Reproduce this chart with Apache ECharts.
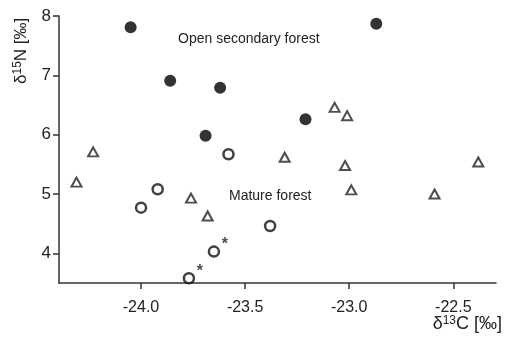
<!DOCTYPE html>
<html>
<head>
<meta charset="utf-8">
<script src="https://cdn.jsdelivr.net/npm/echarts@6/dist/echarts.min.js"></script>
<style>
html,body{margin:0;padding:0;background:#fff;}
#chart{width:507px;height:340px;}
</style>
</head>
<body>
<div id="chart"></div>
<script>
// open secondary forest (filled circles)
var secondary = [[-24.05, 7.81], [-23.86, 6.91], [-23.62, 6.79], [-23.69, 5.98], [-22.87, 7.87], [-23.21, 6.26]];
// mature forest (open circles)
var mature = [[-23.58, 5.67], [-23.92, 5.08], [-24.00, 4.77], [-23.65, 4.03], [-23.77, 3.58], [-23.38, 4.46]];
var starred = [3, 4]; // mature points marked with *
// triangles
var triangles = [[-24.23, 5.71], [-24.31, 5.20], [-23.76, 4.93], [-23.68, 4.63], [-23.07, 6.46], [-23.01, 6.32],
  [-23.31, 5.62], [-23.02, 5.48], [-22.38, 5.54], [-22.99, 5.07], [-22.59, 5.00]];
var xTicks = [-24.0, -23.5, -23.0, -22.5];
var yTicks = [4, 5, 6, 7, 8];

var txt = '#222';
var fontFam = 'Liberation Sans, Arial, sans-serif';

var matureData = mature.map(function (p, i) {
  if (starred.indexOf(i) >= 0) {
    return { value: p, label: { show: true, formatter: '*', position: 'inside', offset: [11, -7], fontSize: 16, fontWeight: 'bold', color: txt, fontFamily: fontFam } };
  }
  return p;
});

var chart = echarts.init(document.getElementById('chart'));
chart.setOption({
  animation: false,
  grid: { left: 59, top: 16, right: 11, bottom: 57 },
  xAxis: {
    type: 'value', min: -24.394, max: -22.295,
    splitLine: { show: false },
    axisLine: { show: true, lineStyle: { color: '#333', width: 1.5 } },
    axisTick: { show: true, length: 6, lineStyle: { color: '#333', width: 1.5 }, customValues: xTicks },
    axisLabel: { customValues: xTicks, margin: 17, fontSize: 16, color: txt, fontFamily: fontFam,
      formatter: function (v) { return v.toFixed(1); } }
  },
  yAxis: {
    type: 'value', min: 3.5, max: 8,
    splitLine: { show: false },
    axisLine: { show: true, lineStyle: { color: '#333', width: 1.5 } },
    axisTick: { show: true, length: 6, lineStyle: { color: '#333', width: 1.5 }, customValues: yTicks },
    axisLabel: { customValues: yTicks, margin: 8, fontSize: 17, color: txt, fontFamily: fontFam }
  },
  series: [
    { type: 'scatter', data: secondary, symbol: 'circle', symbolSize: 12,
      itemStyle: { color: '#000' } },
    { type: 'scatter', data: matureData, symbol: 'circle', symbolSize: 10,
      itemStyle: { color: '#fff', borderColor: '#111', borderWidth: 2.5 } },
    { type: 'scatter', data: triangles, symbol: 'triangle', symbolSize: [10, 9],
      itemStyle: { color: '#fff', borderColor: '#222', borderWidth: 2 } }
  ],
  graphic: [
    { type: 'text', left: 178, top: 32, style: { text: 'Open secondary forest', fontSize: 14, fill: txt, fontFamily: fontFam } },
    { type: 'text', left: 229, top: 189, style: { text: 'Mature forest', fontSize: 14, fill: txt, fontFamily: fontFam } },
    { type: 'text', right: 5, top: 315, style: {
      text: 'δ{sup|13}C [‰]', fontSize: 18, fill: txt, fontFamily: fontFam,
      rich: { sup: { fontSize: 12, verticalAlign: 'top', fill: txt, fontFamily: fontFam, padding: [0, 0, 7, 0] } } } },
    { type: 'text', x: 12, y: 84, rotation: Math.PI / 2, style: {
      text: 'δ{sup|15}N [‰]', fontSize: 17, fill: txt, fontFamily: fontFam,
      rich: { sup: { fontSize: 12, fill: txt, fontFamily: fontFam, padding: [0, 0, 7, 0] } } } }
  ]
});
</script>
</body>
</html>
